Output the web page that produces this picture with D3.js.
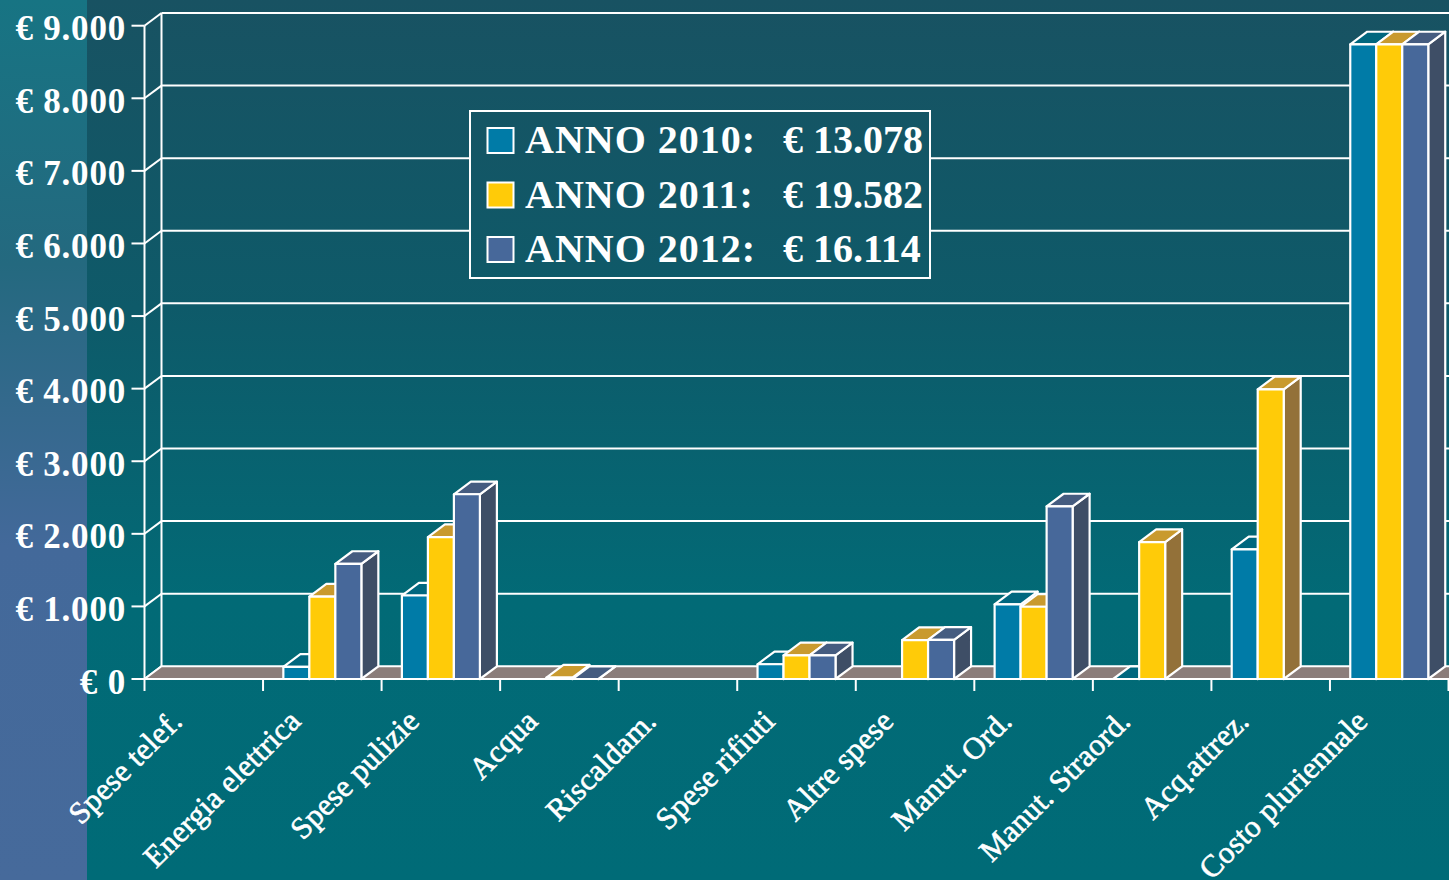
<!DOCTYPE html>
<html>
<head>
<meta charset="utf-8">
<script src="https://cdn.jsdelivr.net/npm/d3@7"></script>
<style>
  html, body { margin: 0; padding: 0; background: #006b77; }
  svg { display: block; }
</style>
</head>
<body>
<svg id="chart" width="1449" height="880"></svg>
<script>
// Categories of expense and yearly amounts (€); null = no bar drawn
const categories = ["Spese telef.", "Energia elettrica", "Spese pulizie", "Acqua", "Riscaldam.",
  "Spese rifiuti", "Altre spese", "Manut. Ord.", "Manut. Straord.", "Acq.attrez.", "Costo pluriennale"];
const anno2010 = [null, 168, 1150, null, null, 203, null, 1029, 0, 1786, 8742];
const anno2011 = [null, 1135, 1955, 20, null, 325, 535, 995, 1885, 3990, 8742];
const anno2012 = [null, 1585, 2545, 0, null, 325, 540, 2377, null, null, 8742];
const seriesNames = ["ANNO 2010:", "ANNO 2011:", "ANNO 2012:"];
const yTicks = [0, 1000, 2000, 3000, 4000, 5000, 6000, 7000, 8000, 9000];

const series = [anno2010, anno2011, anno2012];
const palette = [
  { front: "#007ba7", top: "#00677f", side: "#005c78" },
  { front: "#ffcb08", top: "#c99a2e", side: "#937139" },
  { front: "#47689a", top: "#455c80", side: "#3e4e66" }
];

const euro = d3.formatLocale({ decimal: ",", thousands: ".", grouping: [3], currency: ["€ ", ""] }).format("$,.0f");

const svg = d3.select("#chart");
const W = 1449, H = 880;
const DX = 17, DY = 12.7;           // depth offset of the 3D box
const FONT = "'Liberation Serif', 'Times New Roman', serif";

// background gradients
const defs = svg.append("defs");
const gMain = defs.append("linearGradient").attr("id", "bgMain")
  .attr("gradientUnits", "userSpaceOnUse").attr("x1", 0).attr("y1", 0).attr("x2", 0).attr("y2", H);
[[0, "#185262"], [0.35, "#0e5a69"], [0.68, "#026a76"], [1, "#006b77"]]
  .forEach(([o, c]) => gMain.append("stop").attr("offset", o).attr("stop-color", c));
const gSide = defs.append("linearGradient").attr("id", "bgSide")
  .attr("gradientUnits", "userSpaceOnUse").attr("x1", 0).attr("y1", 0).attr("x2", 0).attr("y2", H);
[[0, "#177483"], [0.3, "#24697f"], [0.62, "#43699a"], [1, "#466a9b"]]
  .forEach(([o, c]) => gSide.append("stop").attr("offset", o).attr("stop-color", c));

svg.append("rect").attr("width", W).attr("height", H).attr("fill", "url(#bgMain)");
svg.append("rect").attr("width", 87).attr("height", H).attr("fill", "url(#bgSide)");

// scales
const x = d3.scaleBand().domain(categories).range([144.5, 1448.5]).padding(0);
const x1 = d3.scaleBand().domain(d3.range(series.length)).range([20.3, 98.3]).padding(0);
const y = d3.scaleLinear().domain([0, 9000]).range([679, 25.7]);
const y0 = y(0);
const left = x.range()[0];

// back wall grid
const wall = svg.append("g").attr("stroke", "#fff").attr("stroke-width", 2).attr("fill", "none");
wall.selectAll("line.grid").data(yTicks.filter(d => d > 0)).join("line")
  .attr("class", "grid")
  .attr("x1", left + DX).attr("x2", W)
  .attr("y1", d => y(d) - DY).attr("y2", d => y(d) - DY);
wall.append("line").attr("x1", left + DX).attr("x2", left + DX)
  .attr("y1", y(9000) - DY).attr("y2", y0 - DY);
// connectors from the front axis to the wall
wall.selectAll("line.conn").data(yTicks).join("line")
  .attr("class", "conn")
  .attr("x1", left).attr("y1", d => y(d))
  .attr("x2", left + DX).attr("y2", d => y(d) - DY);

// floor
svg.append("path")
  .attr("d", `M${left},${y0}L${W + 40},${y0}L${W + 40 + DX},${y0 - DY}L${left + DX},${y0 - DY}Z`)
  .attr("fill", "#8b7d7a").attr("stroke", "#fff").attr("stroke-width", 2);

// front value axis
const yAxis = svg.append("g").attr("stroke", "#fff").attr("stroke-width", 2);
yAxis.append("line").attr("x1", left).attr("x2", left).attr("y1", y(9000)).attr("y2", y0);
yAxis.selectAll("line.tick").data(yTicks).join("line").attr("class", "tick")
  .attr("x1", left - 13).attr("x2", left).attr("y1", d => y(d)).attr("y2", d => y(d));
svg.append("g").selectAll("text").data(yTicks).join("text")
  .attr("x", 126).attr("y", d => y(d) + 14.5)
  .attr("text-anchor", "end")
  .attr("fill", "#fff").attr("font-family", FONT).attr("font-weight", "bold").attr("font-size", 35)
  .attr("letter-spacing", 0.8)
  .text(d => euro(d));

// 3D bars, drawn left to right so later faces overlap earlier ones
const bars = [];
categories.forEach((c, i) => {
  series.forEach((s, k) => {
    if (s[i] !== null) bars.push({ c, k, v: s[i] });
  });
});
const barG = svg.append("g").attr("stroke", "#fff").attr("stroke-width", 2.2).attr("stroke-linejoin", "round");
const bw = x1.bandwidth();
bars.forEach(b => {
  const bx = x(b.c) + x1(b.k);
  const by = y(b.v);
  const col = palette[b.k];
  const g = barG.append("g");
  g.append("path")
    .attr("d", `M${bx + bw},${by}L${bx + bw + DX},${by - DY}L${bx + bw + DX},${y0 - DY}L${bx + bw},${y0}Z`)
    .attr("fill", col.side);
  g.append("path")
    .attr("d", `M${bx},${by}L${bx + DX},${by - DY}L${bx + bw + DX},${by - DY}L${bx + bw},${by}Z`)
    .attr("fill", col.top);
  g.append("rect").attr("x", bx).attr("y", by).attr("width", bw).attr("height", y0 - by)
    .attr("fill", col.front);
});

// category axis
const xAxis = svg.append("g").attr("stroke", "#fff").attr("stroke-width", 2);
xAxis.append("line").attr("x1", left).attr("x2", W).attr("y1", y0).attr("y2", y0);
xAxis.selectAll("line.tick").data(d3.range(categories.length + 1)).join("line").attr("class", "tick")
  .attr("x1", i => left + i * x.bandwidth()).attr("x2", i => left + i * x.bandwidth())
  .attr("y1", y0).attr("y2", y0 + 12);

svg.append("g").selectAll("text").data(categories).join("text")
  .attr("transform", d => `translate(${x(d) + x.bandwidth() / 2 - 20},${723}) rotate(-45)`)
  .attr("text-anchor", "end")
  .attr("fill", "#fff").attr("stroke", "#fff").attr("stroke-width", 0.6)
  .attr("font-family", FONT).attr("font-size", 31).attr("letter-spacing", 0.2)
  .text(d => d);

// legend with yearly totals
const legend = svg.append("g");
legend.append("rect").attr("x", 470).attr("y", 111).attr("width", 460).attr("height", 167)
  .attr("fill", "url(#bgMain)").attr("stroke", "#fff").attr("stroke-width", 2);
seriesNames.forEach((name, k) => {
  const ry = 128 + k * 54.5;
  legend.append("rect").attr("x", 487.5).attr("y", ry).attr("width", 26).attr("height", 25)
    .attr("fill", palette[k].front).attr("stroke", "#fff").attr("stroke-width", 2);
  legend.append("text").attr("x", 525).attr("y", ry + 25)
    .attr("fill", "#fff").attr("font-family", FONT).attr("font-weight", "bold").attr("font-size", 40)
    .attr("letter-spacing", 1)
    .text(name);
  legend.append("text").attr("x", 783).attr("y", ry + 25)
    .attr("fill", "#fff").attr("font-family", FONT).attr("font-weight", "bold").attr("font-size", 40)
    .text(euro(d3.sum(series[k], v => v || 0)));
});
</script>
</body>
</html>
